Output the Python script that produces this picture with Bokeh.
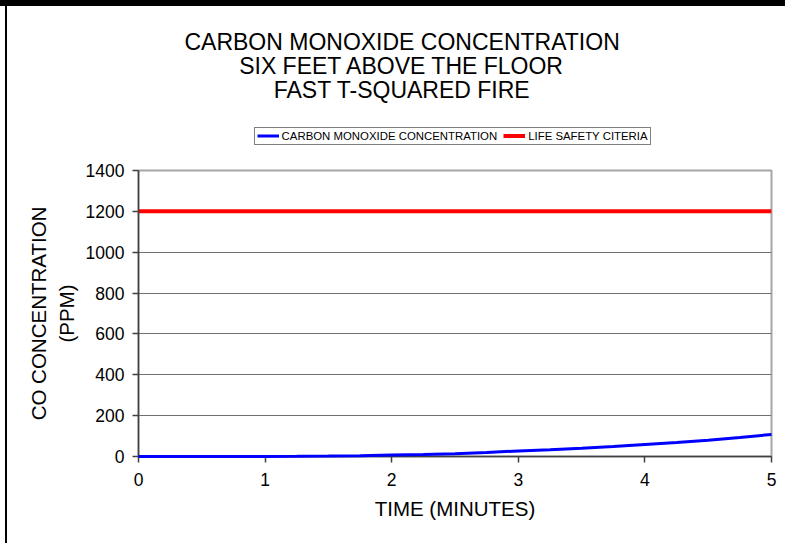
from bokeh.plotting import figure
from bokeh.models import Range1d, Label, Legend, LegendItem, FixedTicker
from bokeh.layouts import column
from bokeh.embed import file_html
from bokeh.resources import INLINE

# ---- data ----
time_min = [0, 0.25, 0.5, 0.75, 1.0, 1.25, 1.5, 1.75, 2.0, 2.25, 2.5,
            2.75, 3.0, 3.25, 3.5, 3.75, 4.0, 4.25, 4.5, 4.75, 5.0]
co_ppm = [0, 0, 0, 0, 0.5, 1, 2, 4, 7, 10, 14, 20, 27, 33, 40, 49, 59,
          68, 80, 93, 108]
criteria_time = [0, 5]
criteria_ppm = [1200, 1200]

x_ticks = [0, 1, 2, 3, 4, 5]
y_ticks = [0, 200, 400, 600, 800, 1000, 1200, 1400]

title_lines = ["CARBON MONOXIDE CONCENTRATION",
               "SIX FEET ABOVE THE FLOOR",
               "FAST T-SQUARED FIRE"]
y_label = "CO CONCENTRATION\n(PPM)"
x_label = "TIME (MINUTES)"
series_names = ["CARBON MONOXIDE CONCENTRATION", "LIFE SAFETY CITERIA"]

FONT = "Liberation Sans"
BLUE = "#0000ff"
RED = "#ff0000"
W = 780
H_TOP = 150
H_MAIN = 387

# ---------------- title / legend strip ----------------
# (its frame is aligned with the main chart's frame by the column layout)
top = figure(width=W, height=H_TOP, output_backend="svg", toolbar_location=None,
             x_range=Range1d(0, 5), y_range=Range1d(0, H_TOP),
             x_axis_type=None, y_axis_type=None,
             min_border_left=131, min_border_right=16,
             min_border_top=0, min_border_bottom=0,
             styles={"border-left": "2px solid black"})
top.grid.visible = False
top.outline_line_color = None
top.background_fill_color = "white"
top.border_fill_color = "white"

for txt, yy in zip(title_lines, [114.2, 90.4, 66.6]):
    top.add_layout(Label(x=263.6, y=yy, x_units="screen", text=txt,
                         text_align="center", text_baseline="middle",
                         text_font=FONT, text_font_size="23px",
                         text_color="black"))

# legend samples (single-point proxies: they draw nothing in the strip)
proxy_blue = top.line([time_min[0]], [-10], line_color=BLUE, line_width=3)
proxy_red = top.line([criteria_time[0]], [-10], line_color=RED, line_width=4)
legend = Legend(items=[LegendItem(label=series_names[0], renderers=[proxy_blue]),
                       LegendItem(label=series_names[1], renderers=[proxy_red])],
                orientation="horizontal", location=(115.6, 11.3),
                label_text_font=FONT, label_text_font_size="11.4px",
                label_text_color="black",
                glyph_width=22, glyph_height=11, label_height=11,
                label_standoff=3, spacing=6, padding=2, margin=0,
                border_line_color="black", border_line_width=1,
                background_fill_color="white", background_fill_alpha=1)
top.add_layout(legend, "center")

# ---------------- main chart ----------------
p = figure(width=W, height=H_MAIN, output_backend="svg", toolbar_location=None,
           x_range=Range1d(0, 5), y_range=Range1d(0, 1400),
           min_border_left=131, min_border_right=16,
           min_border_top=14, min_border_bottom=87,
           styles={"border-left": "2px solid black"})
p.background_fill_color = "white"
p.border_fill_color = "white"
p.outline_line_color = "#a6a6a6"
p.outline_line_width = 2

p.xgrid.grid_line_color = None
p.ygrid.grid_line_color = "#707070"
p.ygrid.grid_line_width = 1
p.ygrid.ticker = FixedTicker(ticks=y_ticks)

p.xaxis.ticker = FixedTicker(ticks=x_ticks)
p.yaxis.ticker = FixedTicker(ticks=y_ticks)
for ax in (p.xaxis, p.yaxis):
    ax.axis_line_color = "#404040"
    ax.axis_line_width = 1.5
    ax.major_tick_line_color = "#404040"
    ax.major_tick_line_width = 1.5
    ax.major_tick_in = 0
    ax.major_tick_out = 6
    ax.minor_tick_line_color = None
    ax.major_label_text_font = FONT
    ax.major_label_text_font_size = "17.5px"
    ax.major_label_text_color = "black"
    ax.axis_label_text_font = FONT
    ax.axis_label_text_font_size = "20.5px"
    ax.axis_label_text_font_style = "normal"
    ax.axis_label_text_color = "black"
p.xaxis.major_label_standoff = 10
p.yaxis.major_label_standoff = 8
p.xaxis.axis_label = x_label
p.xaxis.axis_label_standoff = 8
p.yaxis.axis_label = y_label
p.yaxis.axis_label_standoff = 5
p.yaxis.axis_label_text_line_height = 1.22

p.line(criteria_time, criteria_ppm, line_color=RED, line_width=4)
p.line(time_min, co_ppm, line_color=BLUE, line_width=3, level="overlay")

layout = column(top, p, spacing=0,
                styles={"border-top": "6px solid black", "padding-left": "5px"})

open("out.html", "w").write(file_html(layout, INLINE))
